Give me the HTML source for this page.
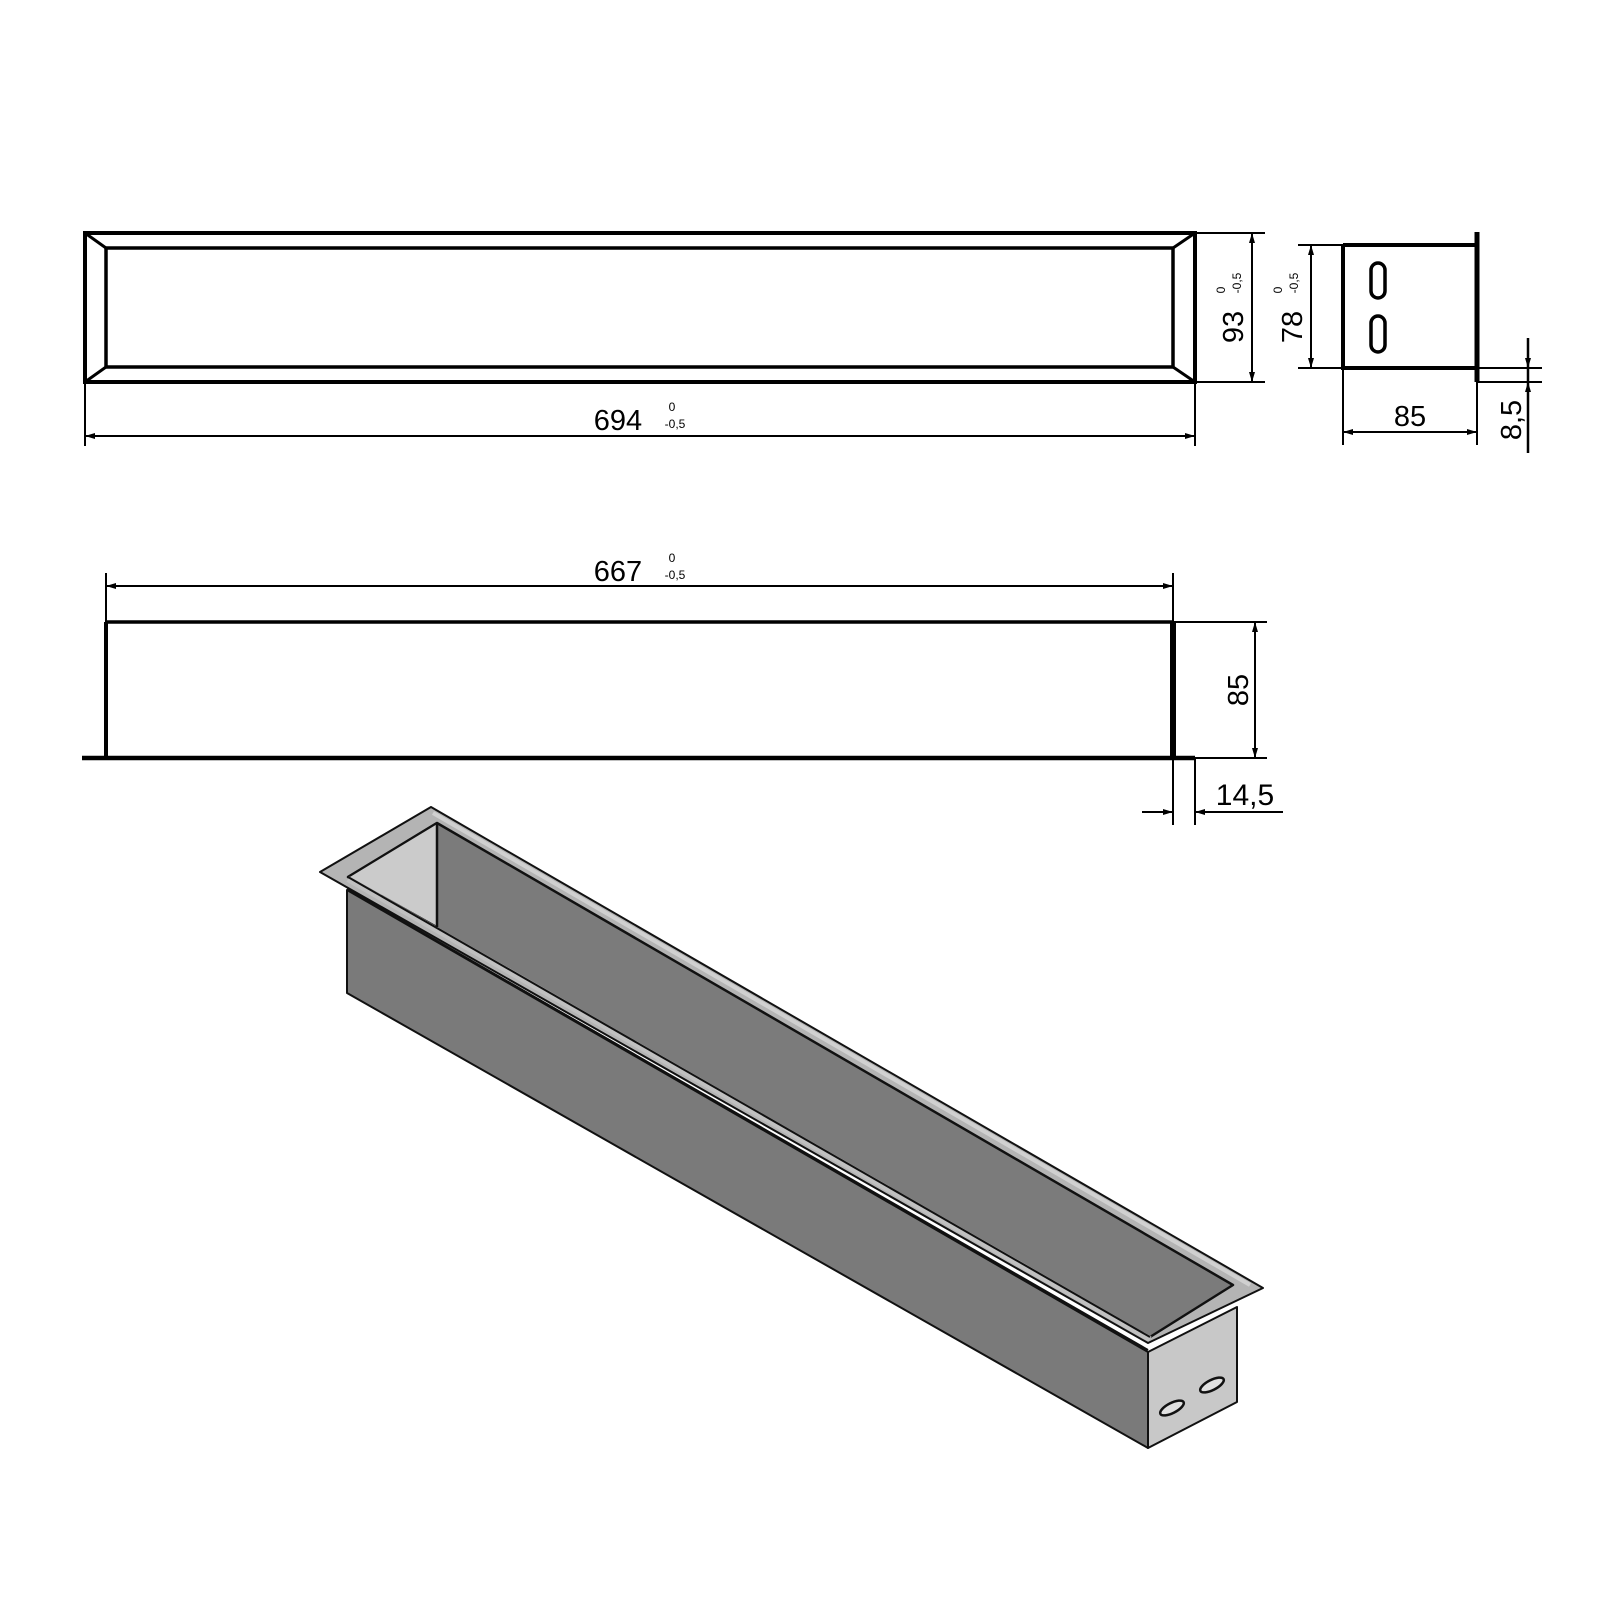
<!DOCTYPE html>
<html><head><meta charset="utf-8"><style>html,body{margin:0;padding:0;background:#fff}svg{display:block}</style></head>
<body>
<svg width="1600" height="1600" viewBox="0 0 1600 1600" xmlns="http://www.w3.org/2000/svg" font-family="Liberation Sans, sans-serif">
<defs>
<marker id="a" viewBox="0 0 10 6" refX="10" refY="3" markerWidth="10" markerHeight="6" orient="auto-start-reverse" markerUnits="userSpaceOnUse"><path d="M0,0 L10,3 L0,6z" fill="#000"/></marker>
</defs>
<g stroke="#000" fill="none">
<!-- top view -->
<rect x="85" y="233" width="1110" height="149" stroke-width="4"/>
<rect x="106" y="248" width="1067" height="119" stroke-width="3.5"/>
<path d="M85,233 L106,248 M85,382 L106,367 M1195,233 L1173,248 M1195,382 L1173,367" stroke-width="3"/>
<!-- 93 dim -->
<path d="M1195,233 H1265 M1195,382 H1265" stroke-width="2"/>
<line x1="1252" y1="233" x2="1252" y2="382" stroke-width="2" marker-start="url(#a)" marker-end="url(#a)"/>
<!-- 694 dim -->
<path d="M85,382 V446 M1195,382 V446" stroke-width="2"/>
<line x1="85" y1="436" x2="1195" y2="436" stroke-width="2" marker-start="url(#a)" marker-end="url(#a)"/>
<!-- side view -->
<path d="M1343,245 V368 H1477 M1343,245 H1477" stroke-width="4"/>
<path d="M1477,232 V382" stroke-width="5"/>
<path d="M1477,382 H1542 M1477,368 H1542" stroke-width="2"/>
<rect x="1371" y="263" width="14" height="35" rx="7" stroke-width="3.5"/>
<rect x="1371" y="316" width="14" height="36" rx="7" stroke-width="3.5"/>
<path d="M1298,245 H1343 M1298,368 H1343" stroke-width="2"/>
<line x1="1311" y1="245" x2="1311" y2="368" stroke-width="2" marker-start="url(#a)" marker-end="url(#a)"/>
<path d="M1343,368 V445 M1477,382 V445" stroke-width="2"/>
<line x1="1343" y1="432" x2="1477" y2="432" stroke-width="2" marker-start="url(#a)" marker-end="url(#a)"/>
<path d="M1528,338 V453" stroke-width="2.5"/>
<path d="M1528,345 L1528,368" stroke-width="2" marker-end="url(#a)"/>
<path d="M1528,405 L1528,382" stroke-width="2" marker-end="url(#a)"/>
<!-- front view -->
<path d="M106,622 H1173" stroke-width="3.5"/>
<path d="M106,622 V758" stroke-width="4"/>
<path d="M1173,622 V758" stroke-width="6"/>
<path d="M82,758 H1195" stroke-width="4.5"/>
<path d="M106,573 V622 M1173,573 V622" stroke-width="2"/>
<line x1="106" y1="586" x2="1173" y2="586" stroke-width="2" marker-start="url(#a)" marker-end="url(#a)"/>
<path d="M1173,622 H1267 M1195,758 H1267" stroke-width="2"/>
<line x1="1255" y1="622" x2="1255" y2="758" stroke-width="2" marker-start="url(#a)" marker-end="url(#a)"/>
<path d="M1173,758 V825 M1195,758 V825" stroke-width="2"/>
<path d="M1142,812 H1173 M1195,812 H1283" stroke-width="2"/>
<path d="M1150,812 L1173,812" stroke-width="2" marker-end="url(#a)"/>
<path d="M1218,812 L1195,812" stroke-width="2" marker-end="url(#a)"/>
</g>
<!-- texts -->
<g fill="#000">
<text x="618" y="430" font-size="29" text-anchor="middle">694</text>
<text x="672" y="411" font-size="12" text-anchor="middle">0</text>
<text x="675" y="428" font-size="12" text-anchor="middle">-0,5</text>
<text x="618" y="581" font-size="29" text-anchor="middle">667</text>
<text x="672" y="562" font-size="12" text-anchor="middle">0</text>
<text x="675" y="579" font-size="12" text-anchor="middle">-0,5</text>
<text transform="translate(1243,327) rotate(-90)" font-size="29" text-anchor="middle">93</text>
<text transform="translate(1225,290) rotate(-90)" font-size="12" text-anchor="middle">0</text>
<text transform="translate(1241,283) rotate(-90)" font-size="12" text-anchor="middle">-0,5</text>
<text transform="translate(1302,327) rotate(-90)" font-size="29" text-anchor="middle">78</text>
<text transform="translate(1282,290) rotate(-90)" font-size="12" text-anchor="middle">0</text>
<text transform="translate(1298,283) rotate(-90)" font-size="12" text-anchor="middle">-0,5</text>
<text x="1410" y="426" font-size="29" text-anchor="middle">85</text>
<text transform="translate(1521,420) rotate(-90)" font-size="29" text-anchor="middle">8,5</text>
<text transform="translate(1248,690) rotate(-90)" font-size="29" text-anchor="middle">85</text>
<text x="1245" y="805" font-size="30" text-anchor="middle">14,5</text>
</g>
<!-- isometric -->
<g stroke="#111" stroke-linejoin="round">
<polygon points="320,872 431,807 1263,1288 1148,1343" fill="#b4b4b4" stroke-width="2"/>
<polygon points="348,877 437,823 1233,1285 1150,1337" fill="#7b7b7b" stroke-width="2.5"/>
<polygon points="348,877 437,823 437,927" fill="#cbcbcb" stroke-width="2"/>
<polygon points="347,890 1148,1352 1148,1448 347,993" fill="#7a7a7a" stroke-width="2"/>
<polygon points="1148,1352 1237,1307 1237,1402 1148,1448" fill="#c8c8c8" stroke-width="2"/>
<line x1="348" y1="879" x2="1150" y2="1339" stroke="#c0c0c0" stroke-width="6"/>
<line x1="348" y1="877" x2="1150" y2="1337" stroke-width="2"/>
<line x1="347" y1="889" x2="1148" y2="1350" stroke-width="2"/>
<line x1="433" y1="813" x2="1250" y2="1285" stroke="#d0d0d0" stroke-width="4"/>
<line x1="437" y1="823" x2="437" y2="927" stroke-width="2.5"/>
<ellipse cx="1172" cy="1408" rx="13" ry="5" transform="rotate(-27 1172 1408)" fill="#e0e0e0" stroke-width="2.5"/>
<ellipse cx="1212" cy="1385" rx="13" ry="5" transform="rotate(-27 1212 1385)" fill="#e0e0e0" stroke-width="2.5"/>
</g>
</svg>
</body></html>
